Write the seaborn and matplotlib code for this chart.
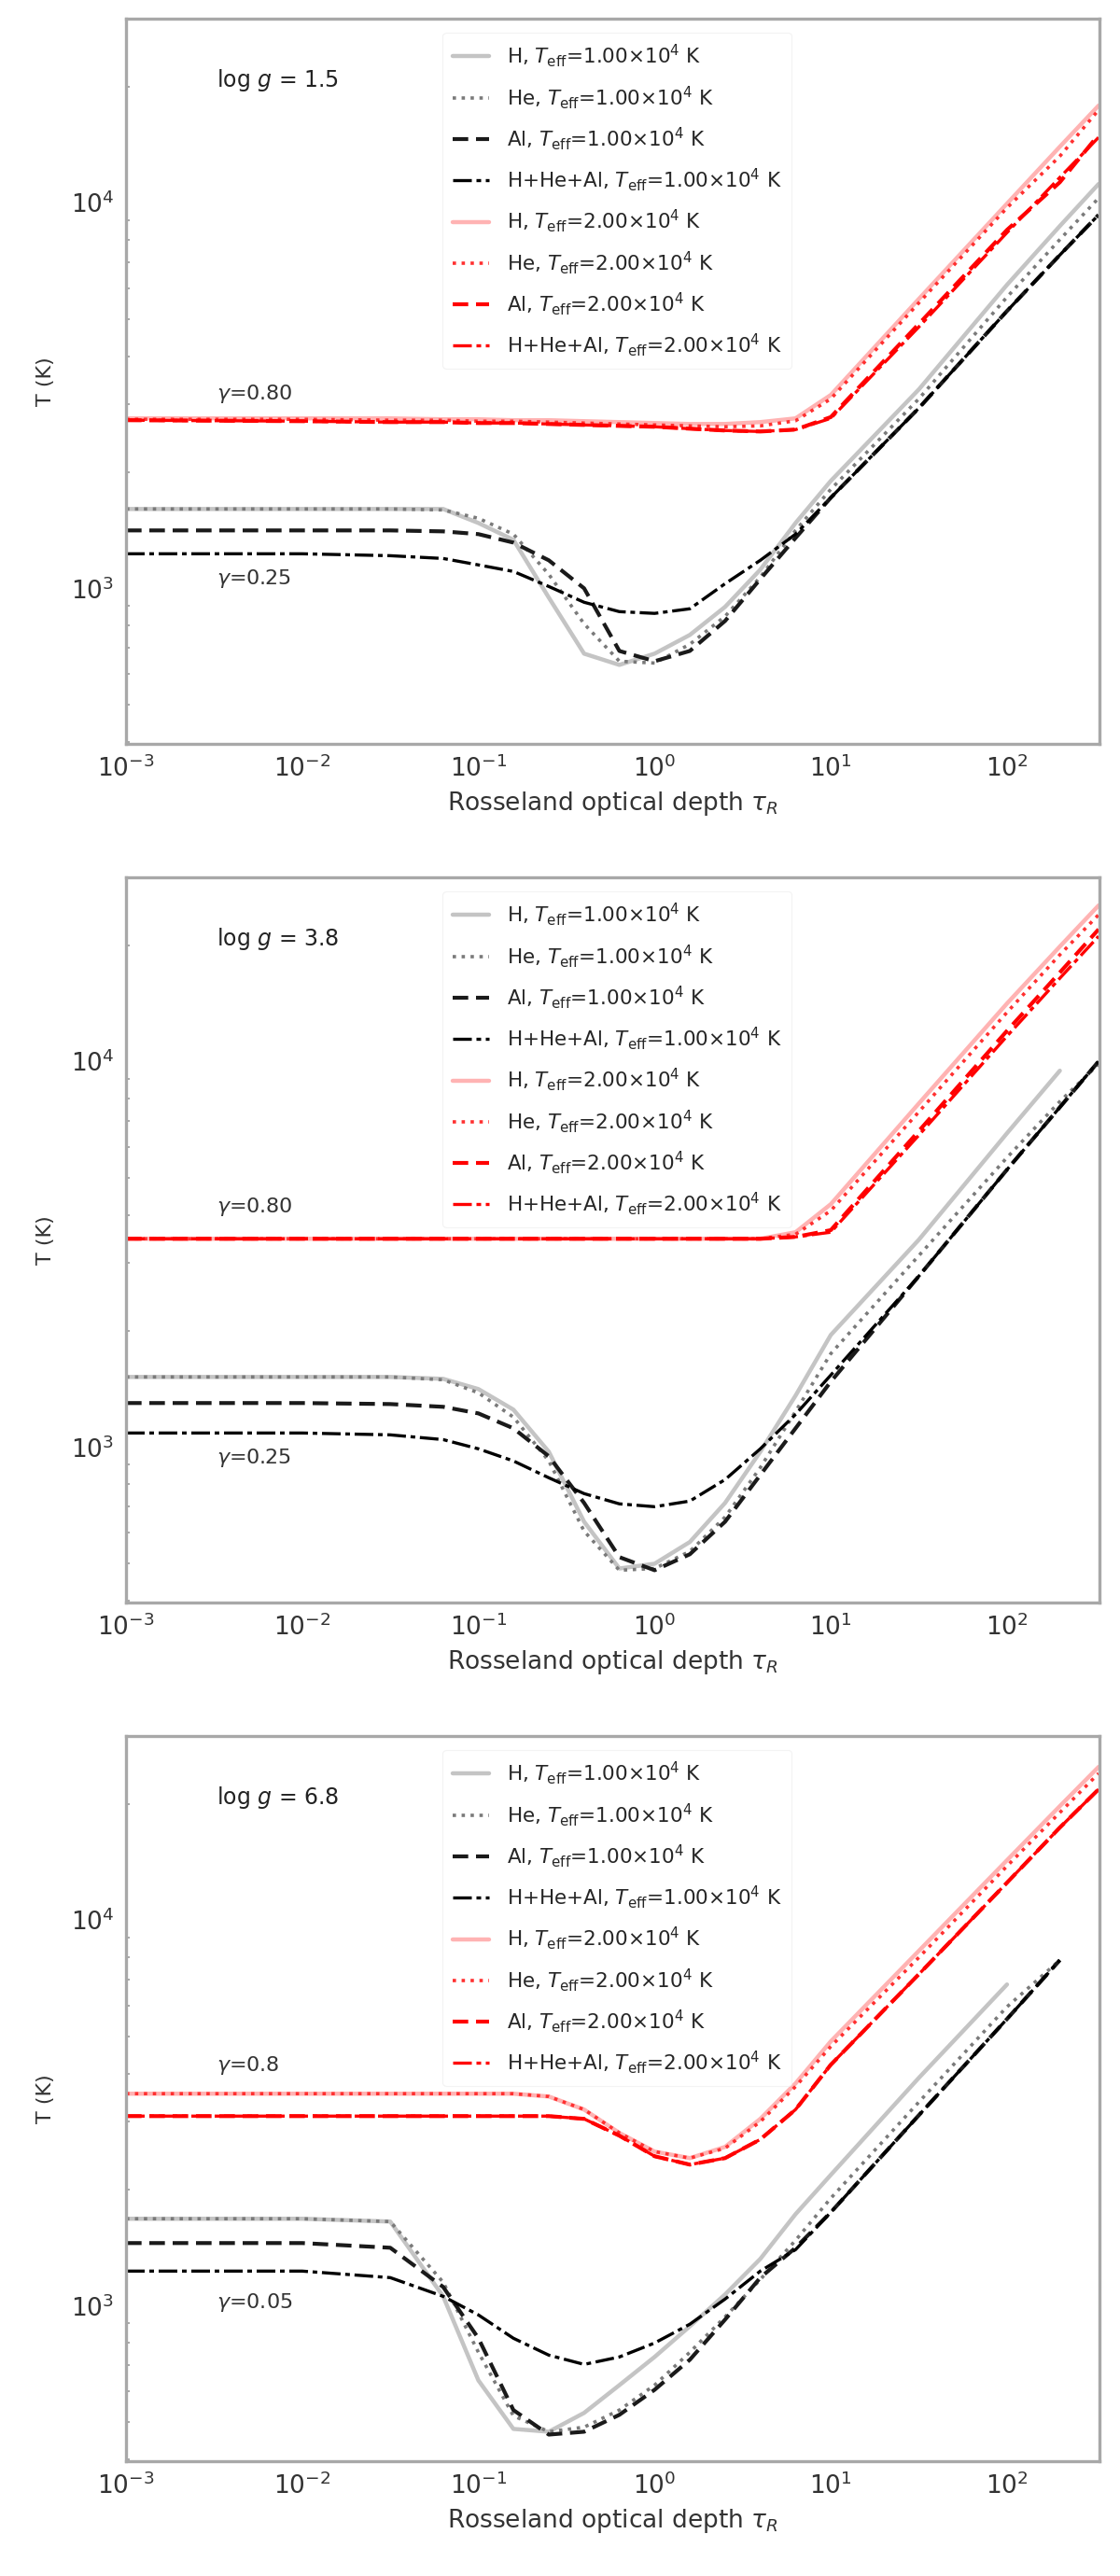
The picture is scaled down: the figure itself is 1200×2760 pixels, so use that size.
import numpy as np
import pandas as pd
import matplotlib
matplotlib.use("Agg")
import matplotlib.pyplot as plt
import seaborn as sns

###############################################################
# values (tau grid shared by every curve)
nan = np.nan
tau = [1e-3, 1e-2, 0.0316, 0.0631, 0.1, 0.158, 0.251, 0.398, 0.631, 1.0,
       1.585, 2.512, 3.981, 6.31, 10.0, 31.62, 100.0, 199.5, 331.0]

# panel 1
p1_h   = [1606, 1606, 1606, 1606, 1477, 1336, 946, 677, 633, 677, 757, 895, 1118, 1477, 1899, 3280, 6124, 8700, 11180]
p1_he  = [1606, 1606, 1606, 1597, 1519, 1382, 1087, 809, 647, 640, 716, 846, 1069, 1413, 1806, 3101, 5693, 8024, 10280]
p1_al  = [1413, 1413, 1413, 1405, 1382, 1314, 1182, 1000, 688, 647, 688, 823, 1057, 1351, 1718, 2934, 5238, 7318, 9300]
p1_mix = [1229, 1229, 1215, 1195, 1150, 1106, 1011, 920, 870, 861, 885, 1028, 1182, 1382, 1718, 2934, 5238, 7318, 9300]
p1_h_r   = [2759, 2759, 2759, 2744, 2744, 2729, 2729, 2713, 2698, 2683, 2668, 2668, 2698, 2759, 3172, 5630, 9945, 13970, 17860]
p1_he_r  = [2744, 2744, 2729, 2729, 2713, 2713, 2698, 2683, 2668, 2653, 2638, 2624, 2638, 2720, 3100, 5500, 9700, 13200, 17400]
p1_al_r  = [2729, 2713, 2698, 2698, 2683, 2683, 2668, 2653, 2638, 2624, 2594, 2566, 2551, 2580, 2780, 4850, 8500, 11300, 15000]
p1_mix_r = [2729, 2713, 2698, 2698, 2683, 2683, 2668, 2653, 2638, 2624, 2594, 2566, 2551, 2580, 2759, 4764, 8365, 11630, 14770]

# panel 2
p2_h   = [1519, 1519, 1519, 1502, 1413, 1250, 972, 640, 484, 498, 567, 716, 972, 1359, 1952, 3448, 6511, 9458, nan]
p2_he  = [1519, 1519, 1519, 1494, 1382, 1195, 920, 605, 479, 484, 536, 658, 884, 1236, 1746, 3136, 5630, 7870, 9833]
p2_al  = [1300, 1300, 1292, 1271, 1222, 1118, 946, 716, 518, 479, 527, 640, 846, 1118, 1477, 2774, 5238, 7604, 10000]
p2_mix = [1087, 1087, 1075, 1045, 989, 920, 832, 757, 712, 700, 724, 823, 989, 1215, 1536, 2774, 5238, 7604, 10000]
p2_h_r   = [3467, 3467, 3467, 3467, 3467, 3467, 3467, 3467, 3467, 3467, 3467, 3467, 3467, 3605, 4262, 7780, 14130, 19850, 25370]
p2_he_r  = [3467, 3467, 3467, 3467, 3467, 3467, 3467, 3467, 3467, 3467, 3467, 3467, 3467, 3560, 4100, 7400, 13400, 18900, 24000]
p2_al_r  = [3467, 3467, 3467, 3467, 3467, 3467, 3467, 3467, 3467, 3467, 3467, 3467, 3467, 3506, 3650, 6600, 12000, 17000, 22000]
p2_mix_r = [3467, 3467, 3467, 3467, 3467, 3467, 3467, 3467, 3467, 3467, 3467, 3467, 3467, 3506, 3605, 6437, 11626, 16430, 21110]

# panel 3
p3_h   = [1680, 1680, 1652, 1057, 640, 479, 471, 527, 622, 736, 884, 1069, 1322, 1727, 2183, 3898, 6806, nan, nan]
p3_he  = [1680, 1680, 1652, 1150, 757, 518, 471, 484, 536, 622, 757, 935, 1169, 1477, 1899, 3373, 5955, 7870, nan]
p3_al  = [1453, 1453, 1413, 1118, 823, 536, 463, 471, 521, 605, 724, 920, 1182, 1413, 1746, 3118, 5538, 7870, nan]
p3_mix = [1229, 1229, 1182, 1057, 946, 823, 744, 704, 736, 800, 895, 1040, 1229, 1397, 1746, 3118, 5538, 7870, nan]
p3_h_r   = [3545, 3545, 3545, 3545, 3545, 3545, 3486, 3225, 2805, 2509, 2413, 2580, 3050, 3770, 4845, 8320, 14290, 19740, 24950]
p3_he_r  = [3545, 3545, 3545, 3545, 3545, 3545, 3486, 3225, 2805, 2509, 2413, 2560, 3000, 3700, 4700, 8000, 13800, 19000, 24000]
p3_al_r  = [3101, 3101, 3101, 3101, 3101, 3101, 3101, 3050, 2759, 2440, 2321, 2413, 2698, 3225, 4215, 7237, 12500, 17370, 21830]
p3_mix_r = [3101, 3101, 3101, 3101, 3101, 3101, 3101, 3050, 2759, 2440, 2321, 2413, 2698, 3225, 4215, 7237, 12500, 17370, 21830]

species = ["H", "He", "Al", "H+He+Al"]
teff_black = [r"1.00$\times$10$^4$ K", r"1.00$\times$10$^4$ K", r"1.00$\times$10$^4$ K", r"1.00$\times$10$^4$ K"]
teff_red = [r"2.00$\times$10$^4$ K", r"2.00$\times$10$^4$ K", r"2.00$\times$10$^4$ K", r"2.00$\times$10$^4$ K"]

panel_notes = [r"log $g$ = 1.5", r"log $g$ = 3.8", r"log $g$ = 6.8"]
red_notes = [r"$\gamma$=0.80", r"$\gamma$=0.80", r"$\gamma$=0.8"]
black_notes = [r"$\gamma$=0.25", r"$\gamma$=0.25", r"$\gamma$=0.05"]
red_note_y = [0.483, 0.546, 0.546]
black_note_y = [0.228, 0.199, 0.219]

panels = [
    [p1_h, p1_he, p1_al, p1_mix, p1_h_r, p1_he_r, p1_al_r, p1_mix_r],
    [p2_h, p2_he, p2_al, p2_mix, p2_h_r, p2_he_r, p2_al_r, p2_mix_r],
    [p3_h, p3_he, p3_al, p3_mix, p3_h_r, p3_he_r, p3_al_r, p3_mix_r],
]

###############################################################
sns.set_theme(style="white")
plt.rcParams['font.family'] = ['DejaVu Sans']
plt.rcParams['mathtext.fontset'] = 'dejavusans'

styles = [
    dict(color='#c4c4c4', linestyle='-', linewidth=3.2),
    dict(color='#7a7a7a', linestyle=':', linewidth=2.6),
    dict(color='#1a1a1a', linestyle=(0, (4, 2)), linewidth=3.0),
    dict(color='#000000', linestyle=(0, (6, 1.5, 1.5, 1.5)), linewidth=2.4),
    dict(color='#ffb3b3', linestyle='-', linewidth=3.2),
    dict(color='#ff3030', linestyle=':', linewidth=2.6),
    dict(color='#ff0000', linestyle=(0, (4, 2)), linewidth=3.0),
    dict(color='#ff0000', linestyle=(0, (6, 1.5, 1.5, 1.5)), linewidth=2.4),
]
labels = [f"{s}, $T_{{\\rm eff}}$={t}" for s, t in zip(species, teff_black)] + \
         [f"{s}, $T_{{\\rm eff}}$={t}" for s, t in zip(species, teff_red)]

fig = plt.figure(figsize=(12, 27.6), dpi=100)
bottoms = [0.71123, 0.37790, 0.04457]

for k in range(3):
    ax = fig.add_axes([0.1125, bottoms[k], 0.869, 0.2815])
    for j, vals in enumerate(panels[k]):
        df = pd.DataFrame({'tau': tau, 'T': vals}).dropna()
        sns.lineplot(data=df, x='tau', y='T', ax=ax, sort=False,
                     label=labels[j], **styles[j])

    ax.set_xscale('log')
    ax.set_yscale('log')
    ax.set_xlim(1e-3, 334)
    ax.set_ylim(395, 30000)
    ax.set_xticks([1e-3, 1e-2, 1e-1, 1e0, 1e1, 1e2])
    ax.xaxis.set_minor_locator(matplotlib.ticker.NullLocator())
    ax.set_yticks([1e3, 1e4])
    ax.tick_params(axis='both', which='major', direction='in', length=5, width=1.5,
                   color='#999999', labelsize=19, labelcolor='#333333', pad=9)
    ax.tick_params(axis='y', which='minor', direction='in', length=3, width=1.2,
                   color='#999999', left=True)
    for sp in ax.spines.values():
        sp.set_color('#a8a8a8')
        sp.set_linewidth(2.4)

    ax.set_xlabel(r'Rosseland optical depth $\tau_R$', fontsize=19, color='#333333', labelpad=6)
    ax.set_ylabel('T (K)', fontsize=16, color='#333333', labelpad=12)

    ax.text(0.093, 0.915, panel_notes[k], transform=ax.transAxes, fontsize=17,
            color='#222222', va='center')
    ax.text(0.093, red_note_y[k], red_notes[k], transform=ax.transAxes, fontsize=16,
            color='#333333', va='center')
    ax.text(0.093, black_note_y[k], black_notes[k], transform=ax.transAxes, fontsize=16,
            color='#333333', va='center')

    leg = ax.legend(loc='upper left', bbox_to_anchor=(0.315, 0.995), fontsize=15.5,
                    handlelength=1.8, handletextpad=0.9, labelspacing=0.72,
                    frameon=True, borderpad=0.5)
    leg.get_frame().set_edgecolor('#f0f0f0')
    leg.get_frame().set_linewidth(0.8)

fig.savefig('out.png', dpi=100)
